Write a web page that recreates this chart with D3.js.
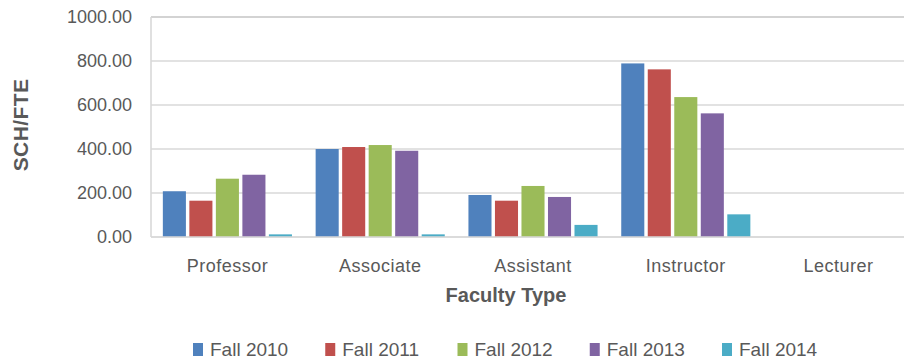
<!DOCTYPE html>
<html>
<head>
<meta charset="utf-8">
<script src="https://cdn.jsdelivr.net/npm/d3@7"></script>
<style>
  html, body { margin: 0; padding: 0; background: #fff; }
  svg { display: block; font-family: "Liberation Sans", Arial, sans-serif; }
</style>
</head>
<body>
<svg id="chart" width="904" height="364"></svg>
<script>
// Student credit hours per FTE, by faculty type and fall term
const categories = ["Professor", "Associate", "Assistant", "Instructor", "Lecturer"];
const seriesNames = ["Fall 2010", "Fall 2011", "Fall 2012", "Fall 2013", "Fall 2014"];
const fall2010 = [208, 400, 191, 789, 0];
const fall2011 = [165, 409, 165, 762, 0];
const fall2012 = [265, 418, 232, 636, 0];
const fall2013 = [283, 392, 182, 562, 0];
const fall2014 = [12, 12, 55, 103, 0];
const yTicks = [0, 200, 400, 600, 800, 1000];
const colors = ["#4f81bd", "#c0504d", "#9bbb59", "#8064a2", "#4bacc6"];

const seriesValues = [fall2010, fall2011, fall2012, fall2013, fall2014];

const svg = d3.select("#chart");
const plot = { left: 151, right: 915, top: 17, bottom: 237 };

const x = d3.scaleBand()
  .domain(categories)
  .range([plot.left, plot.right])
  .paddingInner(0.155)
  .paddingOuter(0.0775);

const xs = d3.scaleBand()
  .domain(seriesNames)
  .range([0, x.bandwidth()])
  .paddingInner(0.13);

const y = d3.scaleLinear().domain([0, 1000]).range([plot.bottom, plot.top]);

// Horizontal gridlines
svg.append("g")
  .selectAll("line")
  .data(yTicks)
  .join("line")
  .attr("x1", plot.left)
  .attr("x2", 904)
  .attr("y1", d => y(d))
  .attr("y2", d => y(d))
  .attr("stroke", d => d === 1000 ? "#c4c4c4" : "#d9d9d9")
  .attr("stroke-width", 1.6);

// Left border of plot area
svg.append("line")
  .attr("x1", plot.left).attr("x2", plot.left)
  .attr("y1", y(1000)).attr("y2", y(0))
  .attr("stroke", "#d9d9d9")
  .attr("stroke-width", 1.6);

// Y axis tick labels
const yAxis = d3.axisLeft(y).tickValues(yTicks).tickFormat(d3.format(".2f")).tickSize(0).tickPadding(0);
const yg = svg.append("g")
  .attr("transform", `translate(132,0)`)
  .call(yAxis);
yg.select(".domain").remove();
yg.selectAll("text")
  .attr("fill", "#595959")
  .style("font-size", "18px")
  .style("font-family", "'Liberation Sans', Arial, sans-serif");

// Bars
const groups = svg.append("g")
  .selectAll("g")
  .data(categories)
  .join("g")
  .attr("transform", d => `translate(${x(d)},0)`);

groups.selectAll("rect")
  .data((c, i) => seriesNames.map((s, j) => ({ s, j, v: seriesValues[j][i] })))
  .join("rect")
  .attr("x", d => xs(d.s))
  .attr("width", xs.bandwidth())
  .attr("y", d => y(d.v))
  .attr("height", d => y(0) - y(d.v))
  .attr("fill", d => colors[d.j]);

// Redraw the baseline over the bar bottoms
svg.append("line")
  .attr("x1", plot.left).attr("x2", 904)
  .attr("y1", y(0)).attr("y2", y(0))
  .attr("stroke", "#d9d9d9")
  .attr("stroke-width", 1.6);

// X axis category labels
const xAxis = d3.axisBottom(x).tickSize(0).tickPadding(0);
const xg = svg.append("g")
  .attr("transform", `translate(0,257)`)
  .call(xAxis);
xg.select(".domain").remove();
xg.selectAll("text")
  .attr("fill", "#595959")
  .attr("dy", "0.85em")
  .style("font-size", "18px")
  .style("letter-spacing", "0.5px")
  .style("font-family", "'Liberation Sans', Arial, sans-serif");

// Axis titles
svg.append("text")
  .attr("x", 506)
  .attr("y", 302)
  .attr("text-anchor", "middle")
  .attr("fill", "#595959")
  .style("font-size", "20px")
  .style("font-weight", "bold")
  .text("Faculty Type");

svg.append("text")
  .attr("transform", "translate(28,125) rotate(-90)")
  .attr("text-anchor", "middle")
  .attr("fill", "#595959")
  .style("font-size", "21px")
  .style("font-weight", "bold")
  .style("letter-spacing", "0.4px")
  .text("SCH/FTE");

// Legend
const legendX = d3.scalePoint().domain(seriesNames).range([193, 722]);
const legend = svg.append("g")
  .selectAll("g")
  .data(seriesNames)
  .join("g")
  .attr("transform", d => `translate(${legendX(d)},343)`);

legend.append("rect")
  .attr("width", 10)
  .attr("height", 13)
  .attr("fill", (d, i) => colors[i]);

legend.append("text")
  .attr("x", 17)
  .attr("y", 13)
  .attr("fill", "#595959")
  .style("font-size", "19px")
  .text(d => d);
</script>
</body>
</html>
